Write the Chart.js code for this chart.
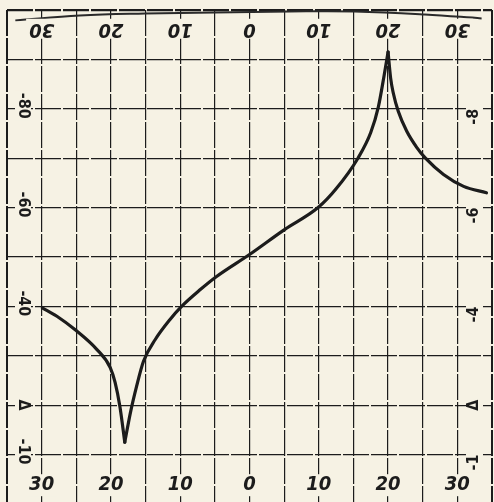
<!DOCTYPE html>
<html>
<head>
<meta charset="utf-8">
<script src="https://cdn.jsdelivr.net/npm/chart.js@4/dist/chart.umd.min.js"></script>
<style>
  html,body{margin:0;padding:0;background:#f6f2e4;}
  #wrap{width:494px;height:502px;position:relative;}
</style>
</head>
<body>
<div id="wrap"><canvas id="c" width="494" height="502"></canvas></div>
<script>
// ---- data ----
const curveX = [-29.9,-27.8,-25.2,-22.05,-20.1,-19.4,-18.7,-18.0,-17.2,-16.3,-15.3,-13.6,-11.5,-9.8,-7.1,-4.8,0,5.0,9.9,12.5,15.65,17.5,18.6,19.4,20.0,20.37,20.75,21.47,22.68,24.13,25.4,28.0,30.9,34.2];
const curveY = [2.97,2.80,2.53,2.13,1.76,1.46,0.97,0.25,0.84,1.38,1.89,2.33,2.73,3.0,3.34,3.60,4.05,4.55,5.0,5.38,6.0,6.52,7.04,7.65,8.15,7.62,7.32,6.95,6.55,6.22,6.0,5.67,5.43,5.30];
const arcX = [-33.8,-24.5,-15.1,-5.0,5.8,15.2,25.3,33.5];
const arcY = [8.79,8.89,8.93,8.95,8.97,8.97,8.91,8.83];
const xTickValues = [-30,-20,-10,0,10,20,30];
const xTickLabels = ['30','20','10','0','10','20','30'];
const yLabelValues = [7,5,3,1,0];
const leftLabels = ['-80','-60','-40','Δ','-10'];
const rightLabels = ['-8','-6','-4','Δ','-1'];

const PAPER = '#f6f2e4';
const INK = '#1c1c1c';

// split the curve at its sharp extrema (dip and peak) so the cusps stay pointed
const pts = curveX.map((x,i)=>({x, y: curveY[i]}));
const cuts = [0];
for (let i = 1; i < pts.length - 1; i++) {
  if ((pts[i].y - pts[i-1].y) * (pts[i+1].y - pts[i].y) < 0) cuts.push(i);
}
cuts.push(pts.length - 1);
const segments = [];
for (let k = 0; k < cuts.length - 1; k++) segments.push(pts.slice(cuts[k], cuts[k+1] + 1));

const labelPlugin = {
  id: 'labels',
  beforeDraw(chart){
    const ctx = chart.ctx;
    ctx.save();
    ctx.fillStyle = PAPER;
    ctx.fillRect(0,0,chart.width,chart.height);
    ctx.restore();
  },
  afterDraw(chart){
    const ctx = chart.ctx;
    const xs = chart.scales.x, ys = chart.scales.y;
    ctx.save();
    ctx.fillStyle = INK;
    ctx.textAlign = 'center';
    ctx.textBaseline = 'middle';
    const numFont = 'italic bold 20px "Liberation Sans Narrow", "DejaVu Sans Condensed", sans-serif';
    ctx.font = numFont;
    const yb = ys.getPixelForValue(-0.62);
    const yt = ys.getPixelForValue(8.62);
    xTickValues.forEach((v,i)=>{
      const px = xs.getPixelForValue(v);
      const w = ctx.measureText(xTickLabels[i]).width;
      ctx.fillStyle = PAPER;
      ctx.fillRect(px - w/2 - 3, yb - 11, w + 6, 22);
      ctx.fillRect(px - w/2 - 3, yt - 10, w + 6, 20);
      ctx.fillStyle = INK;
      ctx.fillText(xTickLabels[i], px, yb);
      ctx.save();
      ctx.translate(px, yt);
      ctx.rotate(Math.PI);
      ctx.fillText(xTickLabels[i], 0, 0);
      ctx.restore();
    });
    const sideFont = 'bold 16px "Liberation Sans Narrow", "DejaVu Sans Condensed", sans-serif';
    ctx.font = sideFont;
    yLabelValues.forEach((v,i)=>{
      const py = ys.getPixelForValue(v);
      let t = leftLabels[i];
      let w = ctx.measureText(t).width;
      let lx = 23, ly = (t === 'Δ') ? py : py - 3;
      ctx.fillStyle = PAPER;
      ctx.fillRect(lx - 8, ly - w/2 - 2, 16, w + 4);
      ctx.fillStyle = INK;
      ctx.save();
      ctx.translate(lx, ly);
      ctx.rotate(Math.PI/2);
      ctx.fillText(t, 0, 0);
      ctx.restore();
      t = rightLabels[i];
      w = ctx.measureText(t).width;
      let rx = 474, ry = (t === 'Δ') ? py : py + 8;
      ctx.fillStyle = PAPER;
      ctx.fillRect(rx - 8, ry - w/2 - 2, 16, w + 4);
      ctx.fillStyle = INK;
      ctx.save();
      ctx.translate(rx, ry);
      ctx.rotate(-Math.PI/2);
      ctx.fillText(t, 0, 0);
      ctx.restore();
    });
    ctx.restore();
  }
};

const curveSets = segments.map((seg, k) => ({
  label: 'curve ' + k,
  data: seg,
  borderColor: INK,
  borderWidth: 3.2,
  borderCapStyle: 'round',
  pointRadius: 0,
  fill: false,
  cubicInterpolationMode: 'monotone'
}));

new Chart(document.getElementById('c'), {
  type: 'line',
  data: {
    datasets: curveSets.concat([{
      label: 'arc',
      data: arcX.map((x,i)=>({x, y: arcY[i]})),
      borderColor: '#2a2a2a',
      borderWidth: 2,
      pointRadius: 0,
      fill: false,
      tension: 0.4
    }])
  },
  options: {
    responsive: false,
    animation: false,
    devicePixelRatio: 1,
    layout: { padding: { left: 7, right: 2, top: 10, bottom: 0.5 } },
    plugins: { legend: { display: false }, tooltip: { enabled: false } },
    scales: {
      x: {
        type: 'linear', min: -35, max: 35,
        ticks: { display: false, stepSize: 5 },
        grid: {
          drawTicks: false,
          color: INK,
          lineWidth: (c) => (Math.abs(c.tick.value) === 35 ? 2 : 1.2)
        },
        border: { display: false, dash: [26, 2] }
      },
      y: {
        type: 'linear', min: -0.95, max: 9,
        afterBuildTicks: (s) => { s.ticks = [0,1,2,3,4,5,6,7,8,9].map(v => ({value: v})); },
        ticks: { display: false },
        grid: {
          drawTicks: false,
          color: INK,
          lineWidth: (c) => (c.tick && c.tick.value === 9 ? 2.2 : 1.2)
        },
        border: { display: false, dash: [26, 2] }
      }
    }
  },
  plugins: [labelPlugin]
});
</script>
</body>
</html>
